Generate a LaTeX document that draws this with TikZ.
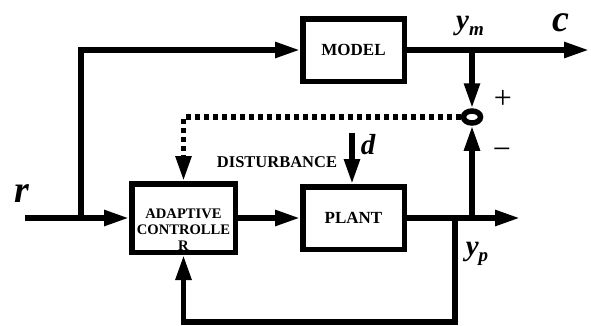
\documentclass[tikz,border=0pt]{standalone}
\usepackage{fontspec}
\setmainfont{Liberation Serif}
\usetikzlibrary{arrows.meta,shapes.geometric}
\begin{document}
\begin{tikzpicture}[x=1pt,y=-1pt,
  blk/.style={draw, line width=5.5pt, fill=white, inner sep=0pt, font=\fontsize{17}{18}\selectfont\bfseries},
  wire/.style={line width=5.5pt, -{Triangle[length=25pt,width=15pt]}},
  dotwire/.style={line width=5.5pt, dash pattern=on 5pt off 4pt, -{Triangle[length=25pt,width=15pt]}},
  biglbl/.style={inner sep=0pt, font=\fontsize{38}{38}\selectfont\bfseries\itshape},
  midlbl/.style={inner sep=0pt, font=\fontsize{29}{29}\selectfont\bfseries\itshape},
  signlbl/.style={inner sep=0pt, font=\fontsize{32}{32}\selectfont}
]
\useasboundingbox (0,0) rectangle (591,325);
% blocks
\node[blk, minimum width=101.5pt, minimum height=62.5pt] (model) at (353.5,50) {MODEL};
\node[blk, minimum width=101.5pt, minimum height=62.5pt] (plant) at (353.5,218) {PLANT};
\node[blk, minimum width=103.5pt, minimum height=68.5pt] (ac) at (183.5,218) {};
\node[inner sep=0pt, align=center, font=\fontsize{14.6}{16}\selectfont\bfseries] (actext) at (183.5,230) {ADAPTIVE\\CONTROLLE\\R};
\node[draw, ellipse, line width=5.5pt, minimum width=17pt, minimum height=12pt, inner sep=0pt] (sum) at (472,117) {};
% coordinates
\coordinate (rin) at (25,218);
\coordinate (b1) at (81,218);
\coordinate (cout) at (589,50);
\coordinate (bm) at (472,50);
\coordinate (yout) at (520,218);
\coordinate (bp) at (472,218);
\coordinate (fb) at (455,218);
\coordinate (fbc) at (455,322);
\coordinate (dtop) at (352,133);
% connectors
\draw[wire] (rin) -- (ac);
\draw[wire] (b1) |- (model);
\draw[wire] (ac) -- (plant);
\draw[wire] (model) -- (cout);
\draw[wire] (bm) -- (sum);
\draw[wire] (plant) -- (yout);
\draw[wire] (bp) -- (sum);
\draw[wire] (fb) -- (fbc) -| (ac);
\draw[dotwire] (sum) -| (ac);
\draw[wire] (dtop) -- (dtop |- plant.north);
% labels
\node[biglbl] (rl) at (22,194) {r};
\node[biglbl] (cl) at (561,23) {c};
\node[midlbl] (yml) at (470,26) {y\raisebox{-0.2em}{\fontsize{19}{19}\selectfont m}};
\node[midlbl] (ypl) at (477,254) {y\raisebox{-0.2em}{\fontsize{19}{19}\selectfont p}};
\node[midlbl] (dl) at (368,145) {d};
\node[inner sep=0pt, font=\fontsize{16.5}{18}\selectfont\bfseries] (dist) at (277,162) {DISTURBANCE};
\node[signlbl] (plus) at (503,99) {+};
\node[signlbl] (minus) at (502,154) {−};
\end{tikzpicture}
\end{document}
